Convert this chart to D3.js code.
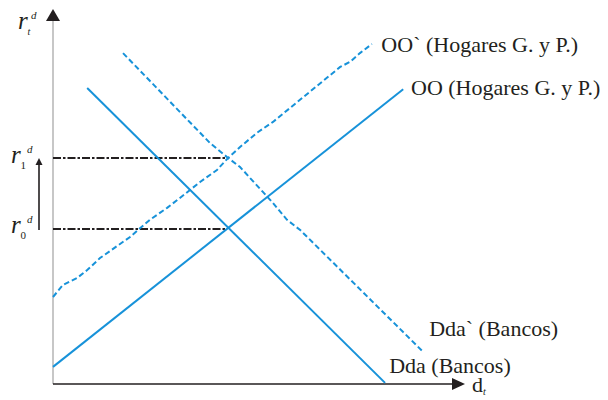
<!DOCTYPE html>
<html>
<head>
<meta charset="utf-8">
<script src="https://cdn.jsdelivr.net/npm/d3@7"></script>
<style>
  html, body { margin: 0; padding: 0; background: #fff; }
  svg { display: block; }
  text { font-family: "Liberation Serif", "DejaVu Serif", "Times New Roman", serif; fill: #231f20; }
</style>
</head>
<body>
<svg id="chart" width="608" height="400"></svg>
<script>
// Supply and demand of deposits (units: 0–100 on both axes)
const supplyOO = [[0, 4.7], [85, 81]];
const supplyOOShift = [[0, 23.9], [2.4, 27.2], [5.8, 29.1], [8.3, 31.3], [11.4, 34.6], [18.7, 40.4],
  [23.5, 45.1], [27.7, 48.4], [30.8, 51.1], [35.7, 55.5], [39.8, 58.8], [42.5, 62.1], [45.4, 65.1],
  [49.5, 69], [53.4, 72], [69.7, 87.1], [72.1, 88.5], [74.5, 90.9], [77.4, 93.4]];
const demandDda = [[8.3, 81.3], [80.6, 0.3]];
const demandDdaShift = [[17, 90.9], [38.1, 66.2], [42.5, 62.1], [45.4, 59.6], [51, 52.7], [53.4, 49.7],
  [56.8, 45.1], [60, 42.3], [89.6, 9.1]];
const rateLevels = [{ key: "r1", y: 62.1, x: 42.5 }, { key: "r0", y: 42.6, x: 42.2 }];
const curveLabels = [
  { text: "OO` (Hogares G. y P.)", x: 79.7, y: 91.2 },
  { text: "OO (Hogares G. y P.)", x: 86.9, y: 79.4 },
  { text: "Dda` (Bancos)", x: 91.3, y: 13.2 },
  { text: "Dda (Bancos)", x: 81.6, y: 3 }
];
const rateLabels = [
  { sub: "t", y: 97.5 },
  { sub: "1", y: 60.7 },
  { sub: "0", y: 41.5 }
];

const blue = "#1792d9";
const ink = "#231f20";
const svg = d3.select("#chart");
const x = d3.scaleLinear().domain([0, 100]).range([53, 465]);
const y = d3.scaleLinear().domain([0, 100]).range([384, 20]);
const line = d3.line().x(d => x(d[0])).y(d => y(d[1]));

// axes
svg.append("line").attr("x1", x(0)).attr("x2", x(0)).attr("y1", y(0)).attr("y2", 19)
  .attr("stroke", "#b5b5b5").attr("stroke-width", 1.5);
svg.append("path").attr("d", `M${x(0)},9 L${x(0) - 7},21 L${x(0) + 7},21 Z`).attr("fill", ink);
svg.append("line").attr("x1", x(0)).attr("x2", 453).attr("y1", y(0)).attr("y2", y(0))
  .attr("stroke", ink).attr("stroke-width", 1.5);
svg.append("path").attr("d", `M465,${y(0)} L452,${y(0) - 6} L452,${y(0) + 6} Z`).attr("fill", ink);

// reference rates
svg.selectAll("line.level").data(rateLevels).join("line")
  .attr("class", "level")
  .attr("x1", x(0)).attr("x2", d => x(d.x))
  .attr("y1", d => y(d.y)).attr("y2", d => y(d.y))
  .attr("stroke", ink).attr("stroke-width", 2)
  .attr("stroke-dasharray", "8,2,2.5,2");

// arrow from r0 up to r1
svg.append("line").attr("x1", 39).attr("x2", 39).attr("y1", y(rateLevels[1].y) + 1).attr("y2", y(rateLevels[0].y) + 6)
  .attr("stroke", ink).attr("stroke-width", 1.6);
svg.append("path")
  .attr("d", `M39,${y(rateLevels[0].y)} L35.5,${y(rateLevels[0].y) + 7} L42.5,${y(rateLevels[0].y) + 7} Z`)
  .attr("fill", ink);

// curves
svg.append("path").attr("d", line(supplyOO)).attr("fill", "none").attr("stroke", blue).attr("stroke-width", 2);
svg.append("path").attr("d", line(demandDda)).attr("fill", "none").attr("stroke", blue).attr("stroke-width", 2);
svg.append("path").attr("d", line(supplyOOShift)).attr("fill", "none").attr("stroke", blue)
  .attr("stroke-width", 2).attr("stroke-dasharray", "5.5,3");
svg.append("path").attr("d", line(demandDdaShift)).attr("fill", "none").attr("stroke", blue)
  .attr("stroke-width", 2).attr("stroke-dasharray", "5.5,3");

// curve labels
svg.selectAll("text.curve").data(curveLabels).join("text")
  .attr("class", "curve")
  .attr("x", d => x(d.x)).attr("y", d => y(d.y))
  .attr("font-size", 22)
  .text(d => d.text);

// rate labels on the vertical axis
const rl = svg.selectAll("g.rate").data(rateLabels).join("g")
  .attr("class", "rate")
  .attr("transform", (d, i) => `translate(${i === 0 ? 18 : 11},${y(d.y)})`);
rl.append("text").attr("font-size", 25).attr("font-style", "italic").text("r");
rl.append("text").attr("x", 9.5).attr("y", 6)
  .attr("font-size", d => d.sub === "t" ? 10 : 11)
  .attr("font-style", d => d.sub === "t" ? "italic" : "normal")
  .text(d => d.sub);
rl.append("text").attr("x", d => d.sub === "t" ? 13 : 16).attr("y", -10)
  .attr("font-size", 11).attr("font-style", "italic").text("d");

// horizontal axis label
const dl = svg.append("text").attr("x", 472).attr("y", 392).attr("font-size", 22);
dl.append("tspan").text("d");
dl.append("tspan").attr("dy", 3).attr("font-size", 10).attr("font-style", "italic").text("t");
</script>
</body>
</html>
